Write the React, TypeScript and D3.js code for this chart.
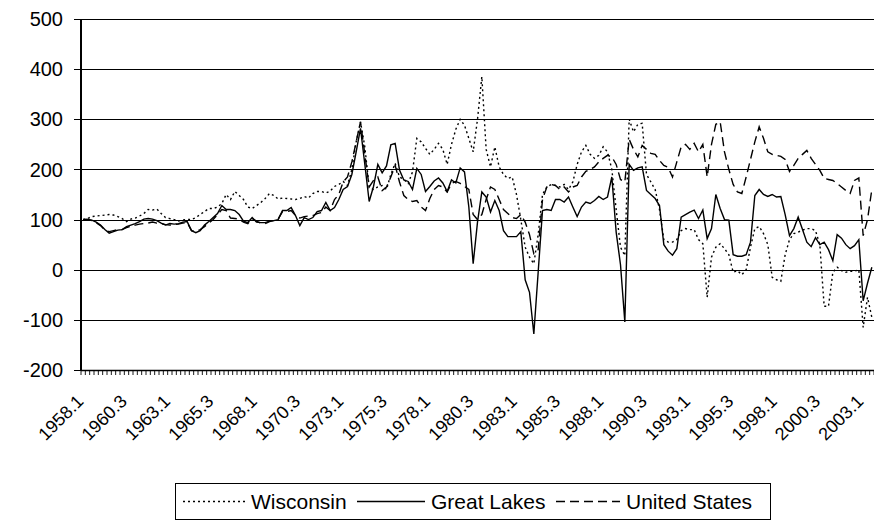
import React from "react";
import * as d3 from "d3";

const years: number[] = [
  1958, 1959, 1960, 1961, 1962, 1963, 1964, 1965, 1966, 1967, 1968, 1969, 1970, 1971, 1972,
  1973, 1974, 1975, 1976, 1977, 1978, 1979, 1980, 1981, 1982, 1983, 1984, 1985, 1986, 1987,
  1988, 1989, 1990, 1991, 1992, 1993, 1994, 1995, 1996, 1997, 1998, 1999, 2000, 2001, 2002, 2003,
];
const quarters: number[] = [1, 2, 3, 4];
const lastQuarter = 3; // data runs to 2003.3

const categories: string[] = years.flatMap((y) =>
  quarters.filter((q) => y < 2003 || q <= lastQuarter).map((q) => `${y}.${q}`)
);

const wisconsin: number[] = [
  100, 102, 106, 107, 108, 109, 110, 109, 106, 102, 96, 101, 103, 107, 112, 120,
  119, 121, 112, 104, 102, 100, 97, 99, 100, 100, 104, 110, 116, 122, 122, 125,
  132, 150, 140, 156, 148, 140, 125, 122, 128, 134, 142, 152, 148, 141, 143, 142,
  141, 140, 142, 146, 143, 152, 156, 156, 153, 157, 166, 170, 176, 168, 200, 255,
  295, 245, 165, 160, 165, 168, 160, 190, 212, 185, 180, 172, 195, 262, 255, 242,
  230, 240, 252, 240, 210, 250, 280, 300, 288, 262, 235, 300, 385, 240, 205, 245,
  205, 190, 182, 185, 150, 100, 45, 25, 12, 70, 150, 165, 170, 168, 165, 170,
  160, 175, 210, 235, 248, 230, 222, 228, 245, 235, 200, 120, 45, 28, 300, 275,
  290, 292, 190, 175, 160, 120, 60, 55, 55, 60, 78, 82, 80, 80, 60, 52,
  -55, 25, 45, 52, 42, 30, -5, -2, -10, 0, 45, 82, 86, 72, 50, -15,
  -20, -23, 30, 60, 72, 75, 79, 82, 82, 78, 50, -73, -73, -5, 5, -2,
  -5, -3, -3, 0, -115, -55, -95,
];

const greatLakes: number[] = [
  100, 100, 99, 95, 89, 80, 73, 76, 79, 80, 86, 89, 92, 96, 101, 102,
  101, 98, 93, 89, 92, 91, 92, 95, 96, 78, 74, 78, 89, 96, 104, 112,
  128, 120, 120, 118, 110, 97, 94, 104, 95, 94, 94, 97, 98, 100, 118, 118,
  124, 108, 88, 104, 100, 104, 116, 118, 134, 118, 124, 140, 160, 166, 190, 235,
  282, 210, 136, 166, 210, 193, 207, 249, 252, 199, 179, 176, 160, 202, 190, 156,
  166, 177, 183, 173, 156, 179, 173, 203, 195, 125, 12, 95, 155, 145, 115, 138,
  118, 78, 66, 66, 66, 76, -20, -45, -128, -5, 118, 120, 118, 140, 140, 135,
  145, 125, 106, 125, 135, 132, 138, 146, 140, 145, 185, 75, 10, -104, 210, 198,
  203, 205, 158, 150, 142, 128, 50, 37, 29, 42, 105, 110, 115, 119, 102, 119,
  62, 82, 150, 122, 100, 99, 30, 27, 27, 30, 55, 148, 160, 150, 146, 150,
  145, 146, 110, 68, 82, 105, 80, 55, 46, 64, 50, 55, 40, 18, 70, 63,
  50, 42, 48, 60, -62, -27, 5,
];

const unitedStates: number[] = [
  100, 100, 98, 94, 88, 79, 76, 78, 80, 80, 84, 87, 89, 91, 92, 93,
  95, 93, 92, 90, 89, 90, 91, 93, 94, 78, 76, 80, 86, 93, 100, 110,
  120, 118, 103, 102, 101, 95, 92, 102, 97, 93, 92, 96, 98, 101, 116, 116,
  118, 108, 103, 106, 107, 108, 112, 114, 125, 118, 140, 150, 175, 185, 215, 255,
  295, 230, 165, 178, 185, 158, 165, 185, 208, 175, 148, 140, 136, 138, 125, 118,
  142, 160, 168, 165, 155, 172, 176, 172, 166, 160, 110, 100, 110, 140, 165, 160,
  140, 120, 112, 104, 102, 110, 95, 70, 32, 40, 140, 165, 170, 168, 160, 165,
  155, 165, 168, 185, 196, 200, 205, 215, 222, 228, 225, 210, 180, 175, 260, 240,
  225, 248, 240, 232, 230, 218, 208, 204, 185, 215, 245, 250, 240, 252, 235, 250,
  185, 250, 290, 295, 235, 200, 170, 155, 152, 185, 220, 255, 285, 262, 235, 230,
  228, 226, 220, 196, 208, 222, 230, 238, 222, 210, 198, 182, 180, 178, 172, 165,
  158, 152, 178, 183, 68, 100, 160,
];

const yTicks: number[] = [-200, -100, 0, 100, 200, 300, 400, 500];
const xTickLabels: string[] = [
  "1958.1", "1960.3", "1963.1", "1965.3", "1968.1", "1970.3", "1973.1", "1975.3", "1978.1",
  "1980.3", "1983.1", "1985.3", "1988.1", "1990.3", "1993.1", "1995.3", "1998.1", "2000.3", "2003.1",
];
const seriesNames: string[] = ["Wisconsin", "Great Lakes", "United States"];

const W = 874;
const H = 525;
const FONT = "'Liberation Sans', Arial, sans-serif";

export default function App() {
  const left = 81;
  const right = 874;
  const top = 19;
  const bottom = 370;

  const x = d3.scaleBand<string>().domain(categories).range([left, right]).padding(0);
  const y = d3.scaleLinear().domain([-200, 500]).range([bottom, top]);
  const cx = (c: string) => (x(c) as number) + x.bandwidth() / 2;

  const mk = (vals: number[]) =>
    d3
      .line<number>()
      .x((_, i) => cx(categories[i]))
      .y((v) => y(v))(vals.slice(0, categories.length)) as string;

  const series = [
    { name: seriesNames[0], data: wisconsin, dash: "2,3" },
    { name: seriesNames[1], data: greatLakes, dash: "" },
    { name: seriesNames[2], data: unitedStates, dash: "9,5" },
  ];

  const boundaries = categories.map((c) => x(c) as number).concat([right]);

  const legendY = 501.5;
  const legendItems = [
    { name: seriesNames[0], x1: 183, x2: 245, tx: 251, dash: "2,3" },
    { name: seriesNames[1], x1: 357, x2: 425, tx: 431, dash: "" },
    { name: seriesNames[2], x1: 556, x2: 620, tx: 626, dash: "9,5" },
  ];

  return (
    <svg
      width={W}
      height={H}
      viewBox={`0 0 ${W} ${H}`}
      style={{ position: "absolute", left: 0, top: 0, background: "#fff" }}
      fontFamily={FONT}
    >
      <rect x={0} y={0} width={W} height={H} fill="#fff" />
      {/* gridlines */}
      {yTicks.map((t) => (
        <line
          key={t}
          x1={left - 7}
          x2={right}
          y1={Math.round(y(t)) + 0.5}
          y2={Math.round(y(t)) + 0.5}
          stroke="#000"
          strokeWidth={1.2}
        />
      ))}
      {/* y labels */}
      {yTicks.map((t) => (
        <text key={"l" + t} x={63} y={y(t)} dy="0.36em" textAnchor="end" fontSize={20} fill="#000">
          {t}
        </text>
      ))}
      {/* x ticks */}
      {boundaries.map((b, i) => (
        <line key={"t" + i} x1={b} x2={b} y1={bottom} y2={bottom + 5} stroke="#000" strokeWidth={0.9} />
      ))}
      {/* axes */}
      <line x1={left} x2={left} y1={top} y2={bottom} stroke="#000" strokeWidth={2} />
      <line x1={left} x2={right} y1={bottom + 0.5} y2={bottom + 0.5} stroke="#000" strokeWidth={1.5} />
      {/* x labels */}
      {xTickLabels.map((lab) => (
        <text
          key={lab}
          transform={`translate(${cx(lab) - 3},${bottom + 28}) rotate(-45)`}
          textAnchor="end"
          dy="0.35em"
          fontSize={18}
          fill="#000"
        >
          {lab}
        </text>
      ))}
      {/* series */}
      <g fill="none" stroke="#000" strokeWidth={1.4}>
        {series.map((s) => (
          <path key={s.name} d={mk(s.data)} strokeDasharray={s.dash || undefined} />
        ))}
      </g>
      {/* legend */}
      <rect x={175.5} y={483.5} width={595} height={36} fill="#fff" stroke="#000" strokeWidth={1} />
      {legendItems.map((it) => (
        <g key={it.name}>
          <line
            x1={it.x1}
            x2={it.x2}
            y1={legendY}
            y2={legendY}
            stroke="#000"
            strokeWidth={1.4}
            strokeDasharray={it.dash || undefined}
          />
          <text x={it.tx} y={legendY} dy="0.36em" fontSize={21} fill="#000">
            {it.name}
          </text>
        </g>
      ))}
    </svg>
  );
}
